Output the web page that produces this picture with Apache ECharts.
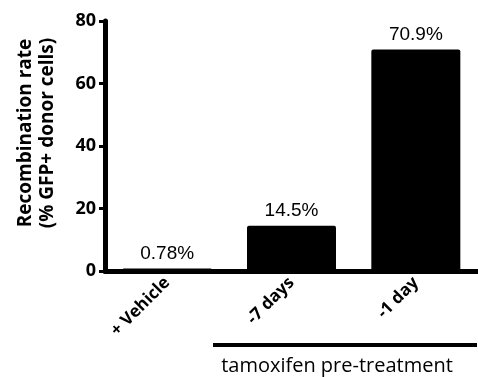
<!DOCTYPE html>
<html><head><meta charset="utf-8">
<script src="https://cdn.jsdelivr.net/npm/echarts@6/dist/echarts.min.js"></script>
<style>html,body{margin:0;padding:0;background:#fff}#c{width:478px;height:377px}</style>
</head><body><div id="c"></div>
<script>
const categories = ['+ Vehicle', '-7 days', '-1 day'];
const values = [0.78, 14.5, 70.9];
const yTicks = [0, 20, 40, 60, 80];
const yTitle = 'Recombination rate\n(% GFP+ donor cells)';
const groupLabel = 'tamoxifen pre-treatment';

const chart = echarts.init(document.getElementById('c'), null, {renderer: 'canvas'});
const F = '"Open Sans", "DejaVu Sans", sans-serif';
chart.setOption({
  animation: false,
  grid: {left: 105, right: 0, top: 21, bottom: 106},
  xAxis: {
    type: 'category', data: categories,
    axisLine: {lineStyle: {color: '#000', width: 5}},
    axisTick: {alignWithLabel: true, length: 10, lineStyle: {color: '#000', width: 4}},
    axisLabel: {rotate: 45, margin: 9, color: '#000', fontWeight: 'bold', fontSize: 17, fontFamily: F}
  },
  yAxis: {
    type: 'value', min: yTicks[0], max: yTicks[yTicks.length - 1], interval: 20,
    splitLine: {show: false},
    axisLine: {show: true, lineStyle: {color: '#000', width: 5}},
    axisTick: {show: true, length: 6, lineStyle: {color: '#000', width: 3}},
    axisLabel: {margin: 9, color: '#000', fontWeight: 'bold', fontSize: 18, fontFamily: F},
    name: yTitle, nameLocation: 'middle', nameGap: 46,
    nameTextStyle: {color: '#000', fontWeight: 'bold', fontSize: 19, fontFamily: F, lineHeight: 22,
      padding: [0, 0, 0, 26]}
  },
  series: [{
    type: 'bar', data: values, barWidth: 89,
    itemStyle: {color: '#000', borderRadius: 2},
    label: {show: true, position: 'top', distance: 5, formatter: '{c}%', color: '#000',
      fontSize: 19, fontFamily: '"Liberation Sans", Arial, sans-serif'}
  }],
  graphic: [
    {type: 'line', shape: {x1: 213, y1: 345, x2: 477, y2: 345}, style: {stroke: '#000', lineWidth: 4}},
    {type: 'text', x: 337, y: 366, style: {text: groupLabel, fill: '#000', fontSize: 20, fontFamily: F,
      textAlign: 'center', textVerticalAlign: 'middle'}}
  ]
});
</script></body></html>
